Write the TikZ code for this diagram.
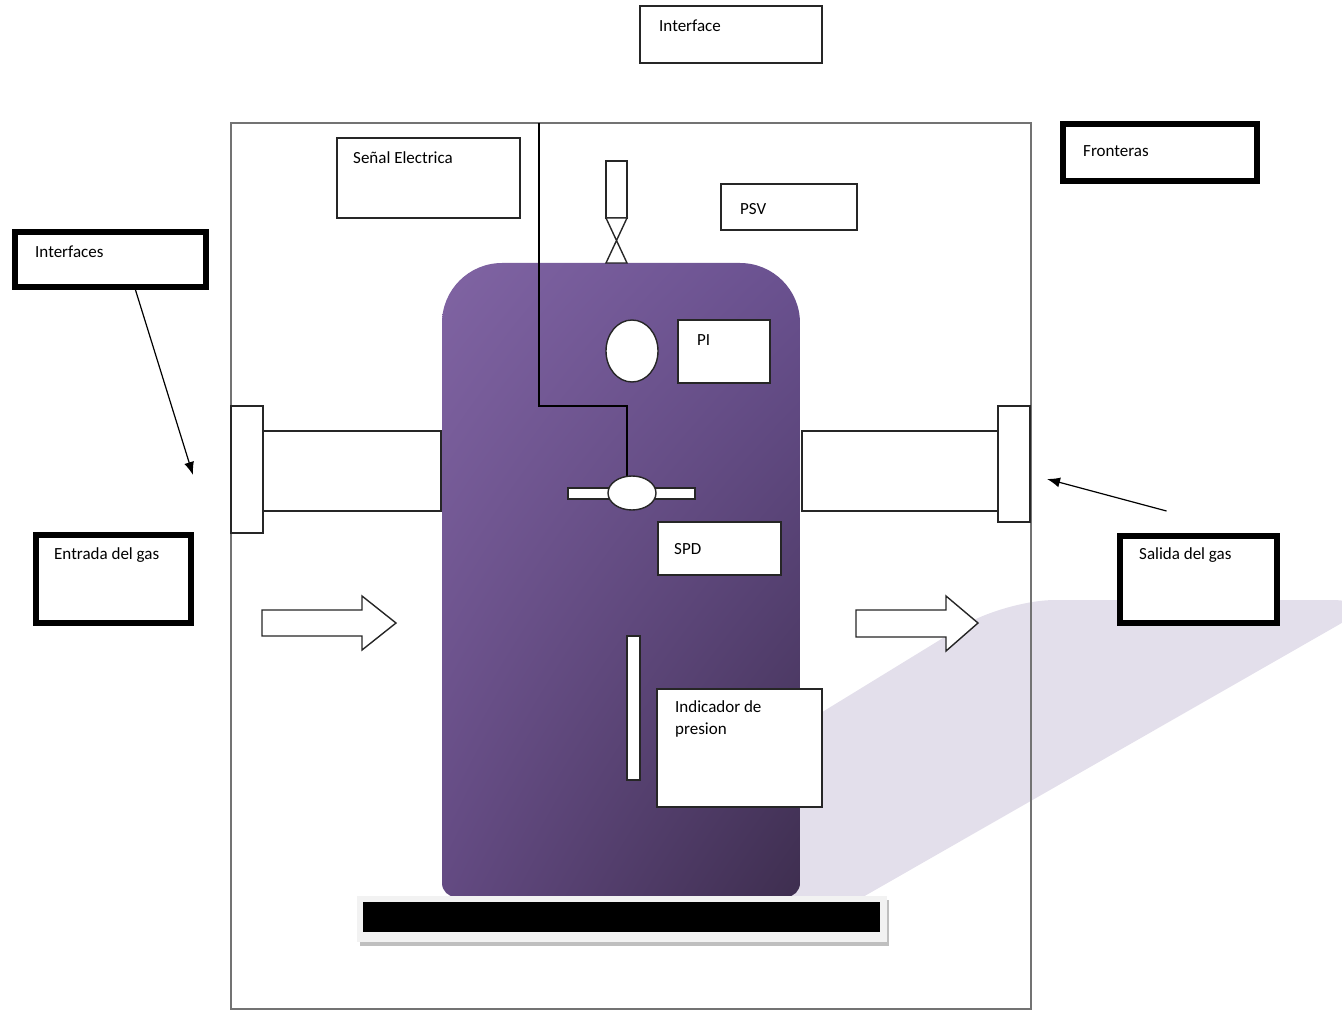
\documentclass[tikz,border=0pt]{standalone}
\usepackage{fontspec}
\setmainfont{Carlito}
\usetikzlibrary{calc}
\usetikzlibrary{positioning}
\usetikzlibrary{arrows.meta, shapes, shadings}
\definecolor{tankA}{HTML}{8064A3}
\definecolor{tankB}{HTML}{6A5190}
\definecolor{tankC}{HTML}{634A82}
\definecolor{tankD}{HTML}{3E2E4F}
\definecolor{shadowcol}{HTML}{E3DFEB}

\begin{document}
\begin{tikzpicture}[x=1pt, y=-1pt]
 \tikzstyle{box}=[rectangle, draw=black!85, line width=1.4pt, fill=white, anchor=north west, inner sep=0pt, outer sep=0pt]
 \tikzstyle{thickbox}=[box, draw=black, line width=5.5pt]
 \tikzstyle{frame}=[rectangle, draw=black!55, line width=1.8pt, anchor=north west, inner sep=0pt, outer sep=0pt]
 \tikzstyle{pipe}=[draw=black!85, line width=1.4pt, fill=white]
 \tikzstyle{lbl}=[anchor=west, inner sep=0pt, font=\fontsize{17}{22}\selectfont]
 \tikzstyle{line}=[draw, line width=1.2pt, -{Latex[length=13pt, width=10pt]}]

 \useasboundingbox (0,0) rectangle (1342,1011);
 \clip (0,0) rectangle (1342,1011);

 % shadow of the tank
 \fill[shadowcol, rounded corners=50] (700,787) -- (1005,600) -- (1382,600) -- (800,933) -- cycle;

 % boundary
 \node[frame, minimum width=800, minimum height=886] (frame) at (231,123) {};

 % tank
 \shade[upper left=tankA, upper right=tankB, lower left=tankC, lower right=tankD]
   [rounded corners=14] (442,700) -- (442,897) -- (800,897) -- (800,700)
   [rounded corners=60] -- (800,263) -- (442,263) -- cycle;

 % pipes and flanges
 \draw[pipe] (263,431) rectangle (441,511);
 \draw[pipe] (231,406) rectangle (263,533);
 \draw[pipe] (802,431) rectangle (998,511);
 \draw[pipe] (998,406) rectangle (1030,522);

 % relief valve
 \draw[pipe] (606,161) rectangle (627,218);
 \draw[pipe] (606,218) -- (627,218) -- (606,263) -- (627,263) -- cycle;

 % gauge and level
 \draw[pipe] (632,351) ellipse (26 and 31);
 \draw[pipe] (627,636) rectangle (640,780);

 % signal line and valve
 \coordinate (sigtop) at (539,123);
 \coordinate (bend) at (627,406);
 \draw[line width=1.4pt] (sigtop) |- (bend) -- (bend |- 0,478);
 \draw[pipe] (568,488) rectangle (695,499);
 \node[ellipse, draw=black!85, line width=1.4pt, fill=white, minimum width=48, minimum height=34, inner sep=0pt] (valve) at (632,493) {};

 % flow arrows
 \draw[pipe] (262,610) -- (362,610) -- (362,596) -- (396,623) -- (362,650) -- (362,636) -- (262,636) -- cycle;
 \draw[pipe] (856,610) -- (946,610) -- (946,596) -- (978,623) -- (946,651) -- (946,637) -- (856,637) -- cycle;

 % base
 \fill[black!25] (360,900) rectangle (889,946);
 \fill[black!5] (357,896) rectangle (887,942);
 \fill[black] (363,902) rectangle (880,932);

 % boxes
 \node[box, minimum width=182, minimum height=57] (interface) at (640,6) {};
 \node[lbl] (interfacetxt) at (659,26) {Interface};
 \node[box, minimum width=183, minimum height=80] (senal) at (337,138) {};
 \node[lbl] (senaltxt) at (353,158) {Señal Electrica};
 \node[box, minimum width=136, minimum height=46] (psv) at (721,184) {};
 \node[lbl] (psvtxt) at (740,209) {PSV};
 \node[box, minimum width=92, minimum height=63] (pi) at (678,320) {};
 \node[lbl] (pitxt) at (697,340) {PI};
 \node[box, minimum width=123, minimum height=53] (spd) at (658,522) {};
 \node[lbl] (spdtxt) at (674,549) {SPD};
 \node[box, minimum width=165, minimum height=118] (indicador) at (657,689) {};
 \node[lbl, anchor=north west, align=left] (indicadortxt) at (675,700) {Indicador de\\presion};

 \node[thickbox, minimum width=191, minimum height=55] (interfaces) at (15,232) {};
 \node[lbl] (interfacestxt) at (35,252) {Interfaces};
 \node[thickbox, minimum width=155, minimum height=88] (entrada) at (36,535) {};
 \node[lbl] (entradatxt) at (54,555) {Entrada del gas};
 \node[thickbox, minimum width=194, minimum height=57] (fronteras) at (1063,124) {};
 \node[lbl] (fronterastxt) at (1083,151) {Fronteras};
 \node[thickbox, minimum width=157, minimum height=87] (salida) at (1120,536) {};
 \node[lbl] (salidatxt) at (1139,555) {Salida del gas};

 % pointers
 \coordinate (inflange) at (193,475);
 \coordinate (outflange) at (1047,479);
 \path[line] ($(interfaces.south)+(25,3)$) -- (inflange);
 \path[line] ($(salida.north)+(-32,-25)$) -- (outflange);
\end{tikzpicture}
\end{document}
